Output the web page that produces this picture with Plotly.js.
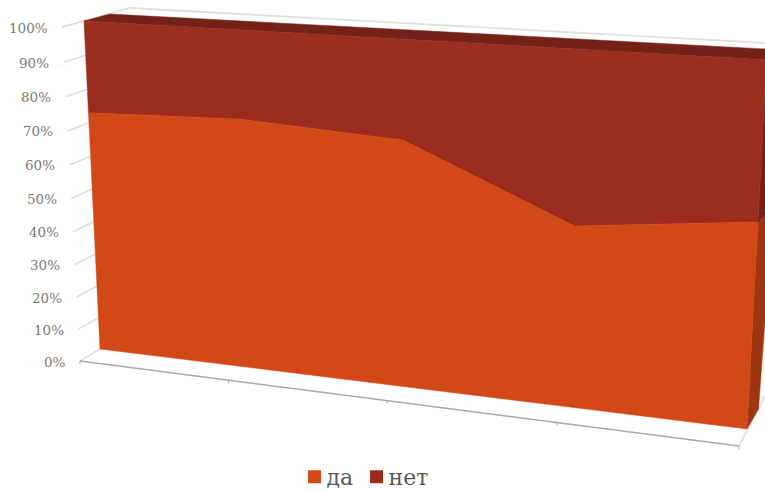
<!DOCTYPE html>
<html><head><meta charset="utf-8">
<script src="https://cdn.plot.ly/plotly-3.0.1.min.js"></script>
<style>html,body{margin:0;padding:0;background:#fff}#c{width:765px;height:490px}</style>
</head><body><div id="c"></div>
<script>
// DATA
const categories = ['1','2','3','4','5'];
const seriesDa  = [73, 74.5, 72, 52, 57.5];
const seriesNet = [27, 25.5, 28, 48, 42.5];
const seriesNames = ['да','нет'];
const valueTicks = [0,10,20,30,40,50,60,70,80,90,100];
const tickLabels = ['0%','10%','20%','30%','40%','50%','60%','70%','80%','90%','100%'];

// 3D view: corners [bottom-left, bottom-right, top-right, top-left] of each plane of the projection
const frontPlane = [[100,349],[747,429],[766.5,60],[84,21]];
const backPlane  = [[118,338],[758.5,409],[785,50],[110,14]];
const axisPlane  = [[80,361],[739,446],[760,66],[62,27]];
const wallTopLine = [[62,27],[130,8],[765,43]];
const floorSide = [[[80,361],[100,349]],[[739,446],[765,396]]];

const C = {da:'#D34817', net:'#9B2D1F', top:'#742217', sideDa:'#9E3611', sideNet:'#742217',
           grid:'#DEDEDE', floor:'#A8A8A8', tick:'#7A7A7A', legend:'#595959'};

function homography(q){
  const [p0,p1,p2,p3]=q;
  const dx1=p1[0]-p2[0],dx2=p3[0]-p2[0],sx=p0[0]-p1[0]+p2[0]-p3[0];
  const dy1=p1[1]-p2[1],dy2=p3[1]-p2[1],sy=p0[1]-p1[1]+p2[1]-p3[1];
  const den=dx1*dy2-dx2*dy1;
  const g=(sx*dy2-dx2*sy)/den,h=(dx1*sy-sx*dy1)/den;
  const a=p1[0]-p0[0]+g*p1[0],b=p3[0]-p0[0]+h*p3[0],c=p0[0];
  const d=p1[1]-p0[1]+g*p1[1],e=p3[1]-p0[1]+h*p3[1],f=p0[1];
  return (u,v)=>{const w=g*u+h*v+1;return [(a*u+b*v+c)/w,(d*u+e*v+f)/w];};
}
const front=homography(frontPlane), back=homography(backPlane), axisP=homography(axisPlane);
const n=categories.length, uOf=i=>i/(n-1);
const cum=seriesDa.map((v,i)=>v+seriesNet[i]);

const traces=[];
function line(pts,color,width){
  traces.push({type:'scatter',mode:'lines',x:pts.map(p=>p[0]),y:pts.map(p=>p[1]),
    line:{color:color,width:width},hoverinfo:'skip',showlegend:false});
}
function poly(pts,color){
  traces.push({type:'scatter',mode:'lines',x:pts.map(p=>p[0]).concat(pts[0][0]),y:pts.map(p=>p[1]).concat(pts[0][1]),
    fill:'toself',fillcolor:color,line:{color:color,width:0.5},hoverinfo:'skip',showlegend:false});
}
// walls and floor
line(wallTopLine,C.grid,1.8);
floorSide.forEach(s=>line(s,C.grid,1.6));
valueTicks.forEach(t=>{ if(t>0) line([axisP(0,t/100),front(0,t/100)],C.grid,1.6); });
line([axisP(0,0),axisP(1,0)],C.floor,1.6);
categories.forEach((c,i)=>{const p=axisP(uOf(i),0);line([p,[p[0],p[1]+3]],C.floor,1);});

// top and right faces
poly([front(0,1),front(1,1),back(1,1),back(0,1)],C.top);
poly([front(1,0),front(1,seriesDa[n-1]/100),back(1,seriesDa[n-1]/100),back(1,0)],C.sideDa);
poly([front(1,seriesDa[n-1]/100),front(1,1),back(1,1),back(1,seriesDa[n-1]/100)],C.sideNet);

// front faces, stacked
const daTop=seriesDa.map((v,i)=>front(uOf(i),v/100));
const netTop=cum.map((v,i)=>front(uOf(i),v/100));
const base=categories.map((c,i)=>front(uOf(i),0));
poly(netTop.concat(daTop.slice().reverse()),C.net);
poly(daTop.concat(base.slice().reverse()),C.da);

// legend keys
[[seriesNames[0],C.da],[seriesNames[1],C.net]].forEach(([nm,col])=>{
  traces.push({type:'scatter',mode:'markers',x:[null],y:[null],name:nm,
    marker:{symbol:'square',size:13,color:col},showlegend:true});
});

const annotations=valueTicks.map((t,i)=>{
  const p=axisP(0,t/100);
  return {x:p[0]-12.5,y:p[1]+0.5,xref:'x',yref:'y',text:tickLabels[i],showarrow:false,
    xanchor:'right',yanchor:'middle',font:{family:'DejaVu Serif',size:13.5,color:C.tick}};
});

Plotly.newPlot('c',traces,{
  width:765,height:490,margin:{l:0,r:0,t:0,b:0},
  paper_bgcolor:'#fff',plot_bgcolor:'#fff',
  xaxis:{range:[0,765],visible:false,fixedrange:true},
  yaxis:{range:[490,0],visible:false,fixedrange:true},
  annotations:annotations,
  showlegend:true,
  legend:{orientation:'h',x:0.385,xanchor:'left',y:0.004,yanchor:'bottom',
    font:{family:'DejaVu Serif',size:22,color:C.legend},itemwidth:30,bgcolor:'rgba(0,0,0,0)',
    itemclick:false,itemdoubleclick:false}
},{displayModeBar:false,staticPlot:true}).then(()=>{
  // tighten legend spacing: key-to-text gap and entry pitch, and seat it at the foot of the page
  const entries=[...document.querySelectorAll('.legend .traces')];
  const pitch=62, keyTextGap=8, legendDrop=10;
  let x0=null;
  entries.forEach((g,i)=>{
    const m=/translate\(([-\d.]+)[ ,]+([-\d.]+)\)/.exec(g.getAttribute('transform'));
    if(x0===null) x0=+m[1];
    g.setAttribute('transform','translate('+(x0+i*pitch)+','+m[2]+')');
    const t=g.querySelector('.legendtext');
    t.setAttribute('x',(+t.getAttribute('x'))-keyTextGap);
  });
  const lg=document.querySelector('.legend');
  const m=/translate\(([-\d.]+)[ ,]+([-\d.]+)\)/.exec(lg.getAttribute('transform'));
  lg.setAttribute('transform','translate('+m[1]+','+(+m[2]+legendDrop)+')');
});
</script></body></html>
